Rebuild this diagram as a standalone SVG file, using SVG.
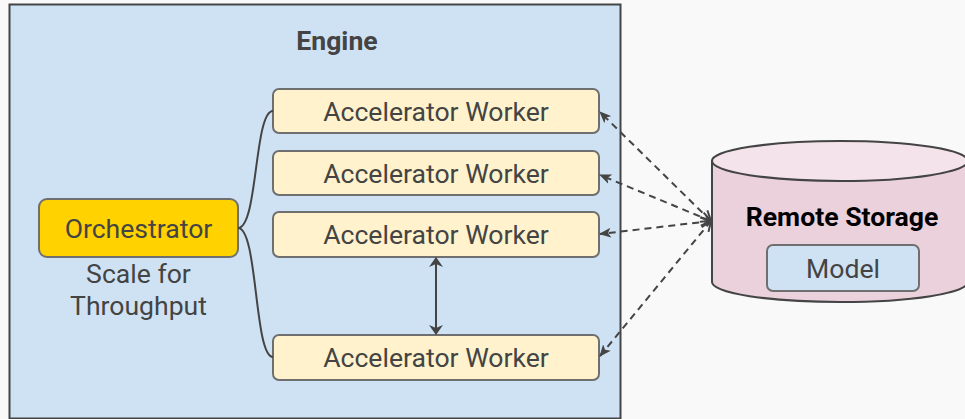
<svg xmlns="http://www.w3.org/2000/svg" width="965" height="419" viewBox="0 0 965 419">
  <style>
    .t { font-family: Roboto, "Liberation Sans", sans-serif; font-size: 26.6px; fill: #444; text-anchor: middle; dominant-baseline: central; }
    .b { font-weight: bold; }
    .worker { fill: #fff2cc; stroke: #6f6f6f; stroke-width: 2; }
    .curve { fill: none; stroke: #444; stroke-width: 2; }
    .dash { fill: none; stroke: #444; stroke-width: 2; stroke-dasharray: 7 5; marker-end: url(#filled); marker-start: url(#open); }
  </style>
  <defs>
    <marker id="filled" viewBox="0 0 12 10" refX="11" refY="5" markerWidth="12" markerHeight="10" markerUnits="userSpaceOnUse" orient="auto">
      <path d="M0,0 L12,5 L0,10 L3,5 z" fill="#444"/>
    </marker>
    <marker id="open" viewBox="0 0 12 12" refX="11" refY="6" markerWidth="12" markerHeight="12" markerUnits="userSpaceOnUse" orient="auto-start-reverse">
      <path d="M1,1 L11,6 L1,11" fill="none" stroke="#444" stroke-width="2"/>
    </marker>
    <marker id="solid" viewBox="0 0 10 14" refX="9" refY="7" markerWidth="10" markerHeight="14" markerUnits="userSpaceOnUse" orient="auto-start-reverse">
      <path d="M0,0 L10,7 L0,14 L3,7 z" fill="#444"/>
    </marker>
  </defs>
  <rect x="0" y="0" width="965" height="419" fill="#f9f9f9"/>

  <g id="engine">
    <rect x="9.5" y="4.5" width="611" height="414" fill="#cfe2f3" stroke="#444" stroke-width="2"/>
    <text class="t b" x="337" y="40">Engine</text>
  </g>

  <g id="orchestrator">
    <rect x="39" y="199" width="199" height="58" rx="8" fill="#ffd200" stroke="#6f6f6f" stroke-width="2"/>
    <text class="t" x="138.5" y="228">Orchestrator</text>
    <text class="t" x="138.5" y="273">Scale for</text>
    <text class="t" x="138.5" y="305">Throughput</text>
  </g>

  <g id="worker1">
    <rect class="worker" x="273" y="89" width="326" height="44" rx="6"/>
    <text class="t" x="436" y="111">Accelerator Worker</text>
  </g>
  <g id="worker2">
    <rect class="worker" x="273" y="151" width="326" height="44" rx="6"/>
    <text class="t" x="436" y="173">Accelerator Worker</text>
  </g>
  <g id="worker3">
    <rect class="worker" x="273" y="212" width="326" height="45" rx="6"/>
    <text class="t" x="436" y="234.5">Accelerator Worker</text>
  </g>
  <g id="worker4">
    <rect class="worker" x="273" y="335" width="326" height="45" rx="6"/>
    <text class="t" x="436" y="357.5">Accelerator Worker</text>
  </g>

  <g id="remote-storage">
    <path d="M712,161 L712,282 A128,20 0 0 0 968,282 L968,161 Z" fill="#ead1dc" stroke="#444" stroke-width="2"/>
    <ellipse cx="840" cy="161" rx="128" ry="20" fill="#f4e3ea" stroke="#444" stroke-width="2"/>
    <text class="t b" x="842" y="216" style="fill:#000">Remote Storage</text>
    <g id="model">
      <rect x="767" y="245" width="152" height="46" rx="6" fill="#cfe2f3" stroke="#6f6f6f" stroke-width="2"/>
      <text class="t" x="843" y="268">Model</text>
    </g>
  </g>

  <g id="connectors">
    <path class="curve" d="M238,228 C258,228 254,111 273,111"/>
    <path class="curve" d="M238,228 C258,228 254,357 273,357"/>
    <line x1="436" y1="258" x2="436" y2="334" stroke="#444" stroke-width="2" marker-start="url(#solid)" marker-end="url(#solid)"/>
    <path class="dash" d="M711,221 L600,112"/>
    <path class="dash" d="M711,221 L600,175"/>
    <path class="dash" d="M711,221 L600,234"/>
    <path class="dash" d="M711,221 L600,356"/>
  </g>
</svg>
